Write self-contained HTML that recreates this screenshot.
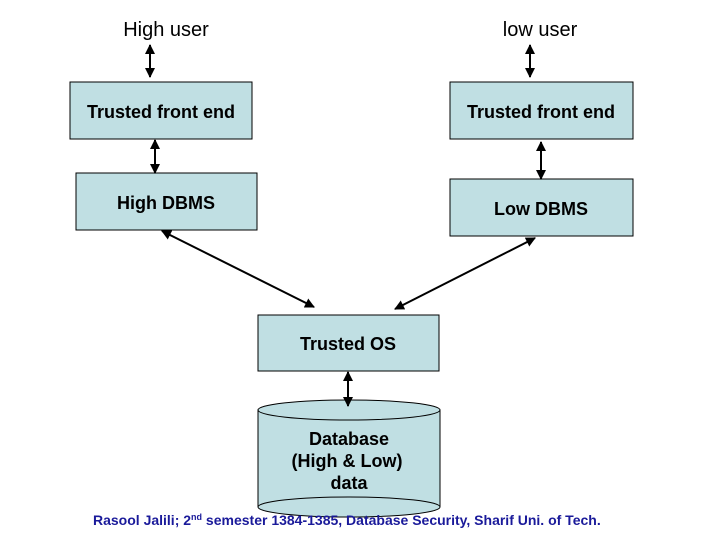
<!DOCTYPE html>
<html><head><style>
body{margin:0;background:#fff;}
svg{display:block;font-family:"Liberation Sans",Arial,sans-serif;}
</style></head><body>
<svg width="720" height="540" viewBox="0 0 720 540" xmlns="http://www.w3.org/2000/svg">
<defs>
<marker id="a" viewBox="0 0 10 10" refX="9" refY="5" markerWidth="5" markerHeight="5" orient="auto-start-reverse"><path d="M0,0 L10,5 L0,10 z" fill="#000"/></marker>
</defs>
<g fill="#c0dfe3" stroke="#000" stroke-width="1">
<rect x="70" y="82" width="182" height="57"/>
<rect x="76" y="173" width="181" height="57"/>
<rect x="450" y="82" width="183" height="57"/>
<rect x="450" y="179" width="183" height="57"/>
<rect x="258" y="315" width="181" height="56"/>
<path d="M258,410 L258,507 A91,10 0 0 0 440,507 L440,410"/>
<ellipse cx="349" cy="410" rx="91" ry="10"/>
<path d="M258,507 A91,10 0 0 1 440,507" fill="none"/>
</g>
<g stroke="#000" stroke-width="2" marker-start="url(#a)" marker-end="url(#a)">
<line x1="150" y1="45" x2="150" y2="77"/>
<line x1="530" y1="45" x2="530" y2="77"/>
<line x1="155" y1="140" x2="155" y2="173"/>
<line x1="541" y1="142" x2="541" y2="179"/>
<line x1="162" y1="231" x2="314" y2="307"/>
<line x1="535" y1="238" x2="395" y2="309"/>
<line x1="348" y1="372" x2="348" y2="406"/>
</g>
<g font-size="20" text-anchor="middle">
<text x="166" y="36">High user</text>
<text x="540" y="36">low user</text>
</g>
<g font-size="18" font-weight="bold" text-anchor="middle">
<text x="161" y="118">Trusted front end</text>
<text x="166" y="209">High DBMS</text>
<text x="541" y="118">Trusted front end</text>
<text x="541" y="215">Low DBMS</text>
<text x="348" y="350">Trusted OS</text>
<text x="349" y="445">Database</text>
<text x="347" y="467">(High &amp; Low)</text>
<text x="349" y="489">data</text>
</g>
<text x="93" y="525" font-size="14" font-weight="bold" fill="#1a1a9a">Rasool Jalili; 2<tspan font-size="9" dy="-5">nd</tspan><tspan dy="5"> semester 1384-1385, Database Security, Sharif Uni. of Tech.</tspan></text>
</svg>
</body></html>
